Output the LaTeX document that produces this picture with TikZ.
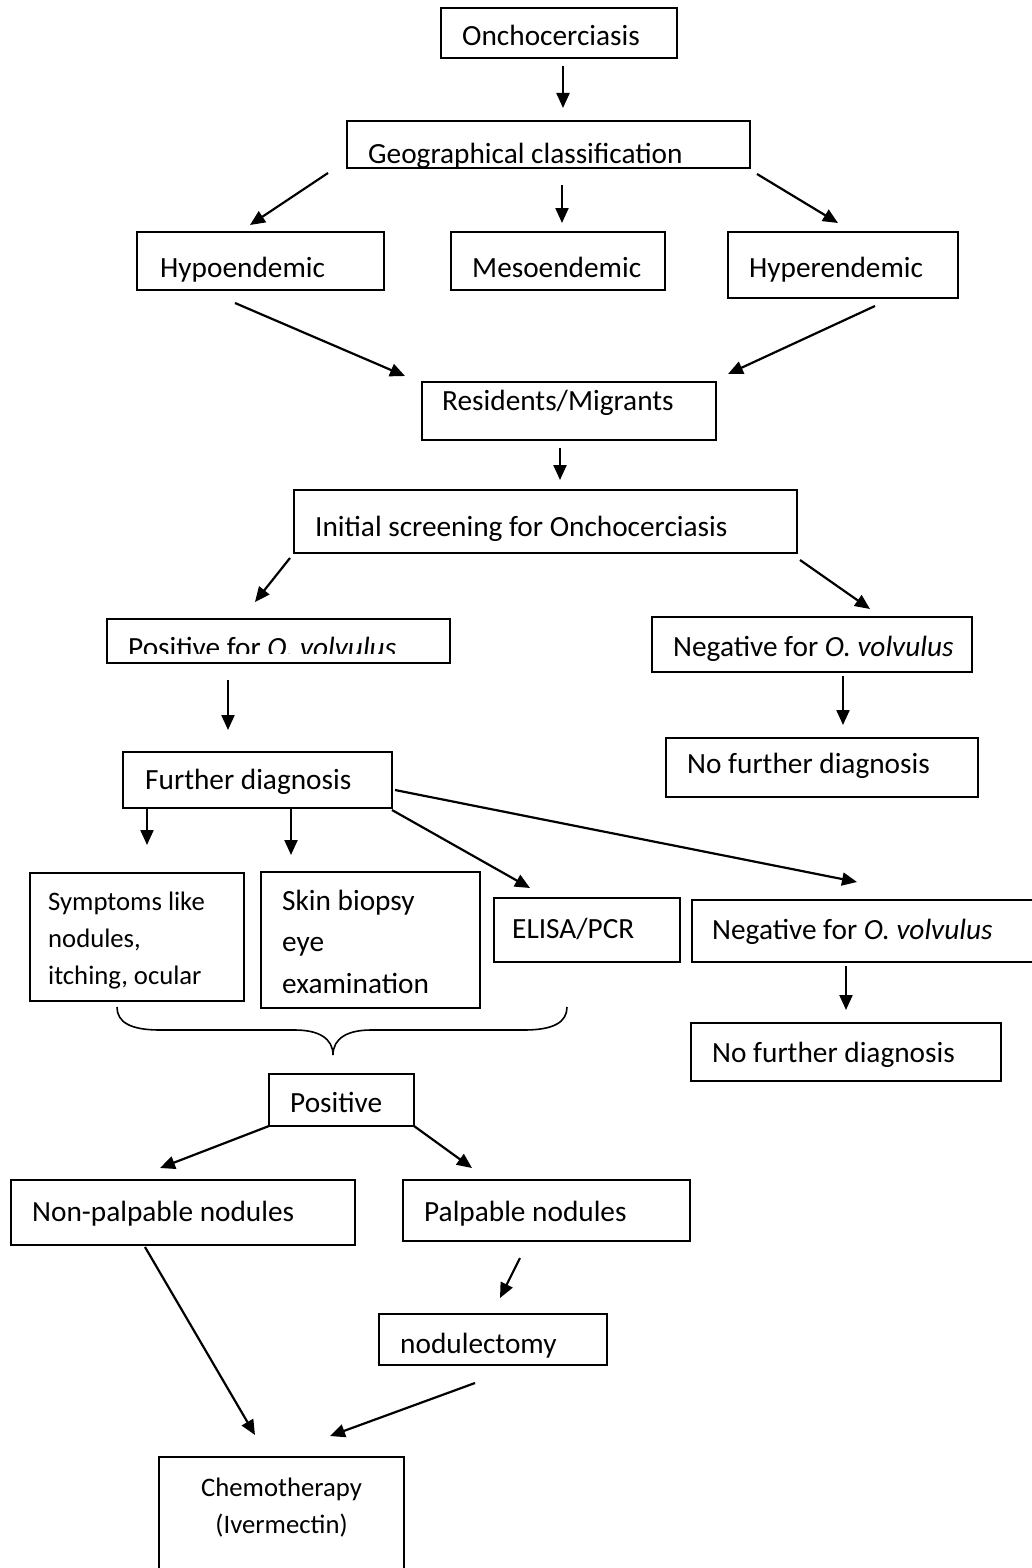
\documentclass[tikz,border=0pt]{standalone}
\usepackage{fontspec}
\setmainfont{Carlito}
\usetikzlibrary{arrows.meta}
\tikzset{
  box/.style={draw=black, line width=2pt, rectangle, inner sep=0pt, outer sep=0pt, anchor=north west},
  txt/.style={anchor=base west, inner sep=0pt, font=\fontsize{29.3}{36}\selectfont},
  stxt/.style={anchor=base west, inner sep=0pt, font=\fontsize{26.7}{32}\selectfont},
  ctxt/.style={anchor=base, inner sep=0pt, font=\fontsize{26.7}{32}\selectfont},
  arr/.style={line width=2.2pt, -{Triangle[length=15pt,width=13pt]}},
  brace/.style={line width=1.6pt}
}
\newcommand\mybox[5]{\node[box, minimum width={(#4-#2)*1pt}, minimum height={(#5-#3)*1pt}] (#1) at (#2,#3) {};}
\begin{document}
\begin{tikzpicture}[x=1pt,y=-1pt]
\clip (0,0) rectangle (1032,1568);
\fill[white] (0,0) rectangle (1032,1568);

% boxes
\mybox{onc}{441}{8}{677}{58}
\mybox{geo}{347}{121}{750}{168}
\mybox{hypo}{137}{232}{384}{290}
\mybox{meso}{451}{232}{665}{290}
\mybox{hyper}{728}{232}{958}{298}
\mybox{res}{422}{382}{716}{440}
\mybox{init}{294}{490}{797}{553}
\mybox{pos}{107}{619}{450}{663}
\mybox{negA}{652}{617}{972}{672}
\mybox{nfA}{666}{738}{978}{797}
\mybox{fd}{123}{752}{392}{808}
\mybox{sym}{30}{873}{244}{1001}
\mybox{skin}{261}{872}{480}{1008}
\mybox{elisa}{494}{898}{680}{962}
\mybox{negB}{692}{900}{1045}{962}
\mybox{nfB}{691}{1023}{1001}{1081}
\mybox{posB}{269}{1074}{414}{1126}
\mybox{nonp}{11}{1180}{355}{1245}
\mybox{palp}{403}{1180}{690}{1241}
\mybox{nod}{379}{1314}{607}{1365}
\mybox{chemo}{159}{1457}{404}{1590}

% texts
\node[txt] (onc-t) at (462,46) {Onchocerciasis};
\begin{scope}
\clip (347,121) rectangle (750,167);
\node[txt] (geo-t) at (368,163) {Geographical classification};
\end{scope}
\node[txt] (hypo-t) at (160,277) {Hypoendemic};
\node[txt] (meso-t) at (472,277) {Mesoendemic};
\node[txt] (hyper-t) at (749,277) {Hyperendemic};
\node[txt] (res-t) at (442,410) {Residents/Migrants};
\node[txt] (init-t) at (315,536) {Initial screening for Onchocerciasis};
\begin{scope}
\clip (107,619) rectangle (450,653);
\node[txt] (pos-t) at (128,657) {Positive for \textit{O. volvulus}};
\end{scope}
\node[txt] (negA-t) at (673,656) {Negative for \textit{O. volvulus}};
\node[txt] (nfA-t) at (687,773) {No further diagnosis};
\node[txt] (fd-t) at (145,789) {Further diagnosis};
\node[stxt] (sym-t1) at (48,910) {Symptoms like};
\node[stxt] (sym-t2) at (48,947) {nodules,};
\node[stxt] (sym-t3) at (48,984) {itching, ocular};
\node[txt] (skin-t1) at (282,910) {Skin biopsy};
\node[txt] (skin-t2) at (282,951) {eye};
\node[txt] (skin-t3) at (282,993) {examination};
\node[txt] (elisa-t) at (512,938) {ELISA/PCR};
\node[txt] (negB-t) at (712,939) {Negative for \textit{O. volvulus}};
\node[txt] (nfB-t) at (712,1062) {No further diagnosis};
\node[txt] (posB-t) at (290,1112) {Positive};
\node[txt] (nonp-t) at (32,1221) {Non-palpable nodules};
\node[txt] (palp-t) at (424,1221) {Palpable nodules};
\begin{scope}
\clip (379,1314) rectangle (607,1357);
\node[txt] (nod-t) at (400,1353) {nodulectomy};
\end{scope}
\node[ctxt] (chemo-t1) at (281.5,1496) {Chemotherapy};
\node[ctxt] (chemo-t2) at (281.5,1533) {(Ivermectin)};

% brace
\coordinate (brL) at (117,1007);
\coordinate (brR) at (567,1007);
\coordinate (brM) at (333,1055);
\draw[brace] (brL) .. controls (117,1022) and (130,1030) .. (160,1030)
  -- (295,1030) .. controls (318,1030) and (333,1038) .. (brM)
  .. controls (333,1038) and (348,1030) .. (371,1030)
  -- (524,1030) .. controls (554,1030) and (567,1022) .. (brR);

% arrows
\foreach \n/\a/\b/\c/\d in {
  1/563/66/563/108, 2/328/173/250/225, 3/562/185/562/223, 4/757/174/838/223,
  5/235/303/405/376, 6/875/306/728/374, 7/560/448/560/480, 8/290/558/255/602,
  9/800/560/870/609, 10/228/680/228/730, 11/843/676/843/725, 12/147/808/147/845,
  13/291/808/291/855, 14/392/810/530/888, 15/395/790/857/882, 16/846/966/846/1010,
  17/269/1126/160/1168, 18/414/1126/472/1168, 19/520/1258/500/1298,
  20/145/1247/255/1435, 21/475/1383/330/1436} {
  \coordinate (s\n) at (\a,\b);
  \coordinate (e\n) at (\c,\d);
  \draw[arr] (s\n) -- (e\n);
}
\end{tikzpicture}
\end{document}
